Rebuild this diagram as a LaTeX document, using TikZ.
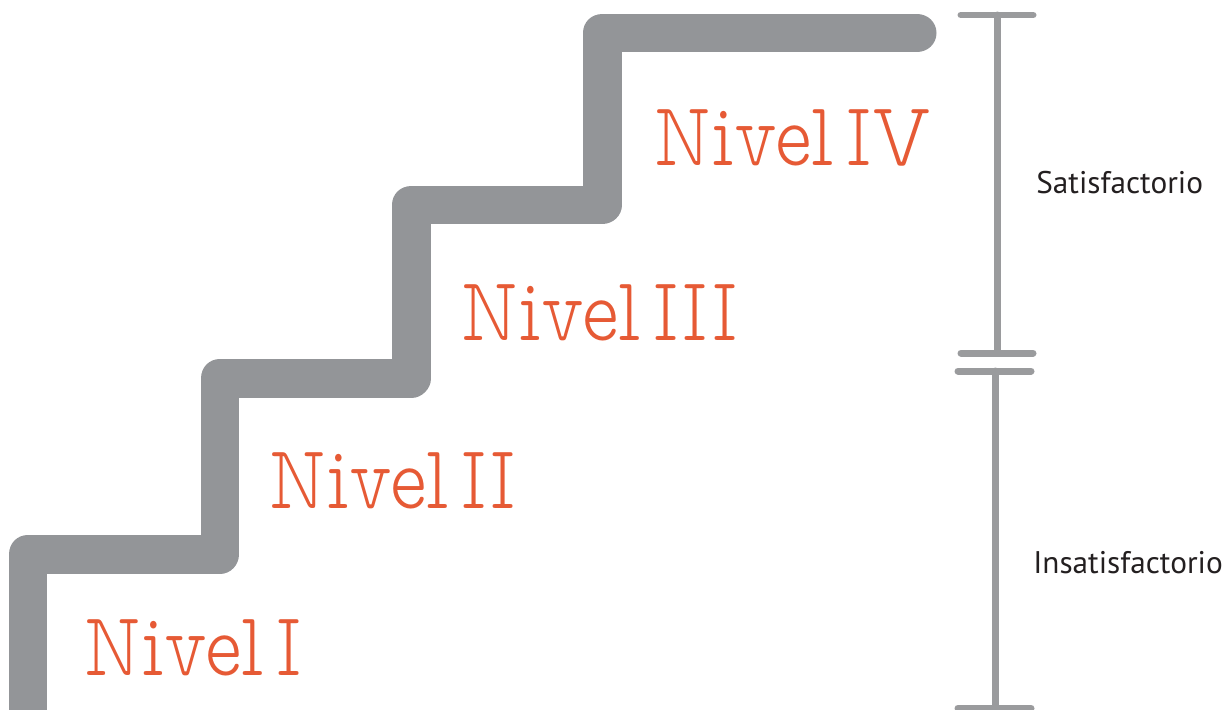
\documentclass[tikz,border=0pt]{standalone}
\usepackage{fontspec}
\usepackage{tikz}
\usetikzlibrary{positioning}
\newfontfamily\slabfont[FakeStretch=0.85, WordSpace=0.4]{Latin Modern Mono Prop Light}
\setsansfont{PT Sans}
\definecolor{stair_gray}{HTML}{939598}
\definecolor{bar_gray}{HTML}{9A9B9D}
\definecolor{level_orange}{HTML}{E65A35}
\definecolor{label_black}{HTML}{231F20}

\begin{document}
\begin{tikzpicture}[x=0.02cm, y=-0.02cm,
    % stili per la scala e le etichette
    stair_line/.style = {
        draw=stair_gray,
        line width=0.78cm,
        line join=round,
        line cap=round
    },
    bar_line/.style = {
        draw=bar_gray,
        line width=0.14cm,
        line cap=round
    },
    level_label/.style = {
        anchor=base west,
        inner sep=0,
        text=level_orange,
        font=\slabfont\fontsize{52}{52}\selectfont
    },
    range_label/.style = {
        anchor=base west,
        inner sep=0,
        text=label_black,
        font=\sffamily\fontsize{17.8}{17.8}\selectfont
    }
]
\useasboundingbox (0,0) rectangle (1231,710);

% 1. La scala
\draw[stair_line] (28,730) -- (28,554) -- (220,554) -- (220,378)
    -- (411,378) -- (411,205) -- (602,205) -- (602,33) -- (917,33);

% 2. I livelli
\node[level_label] (nivel1) at (83,675) {Nivel I};
\node[level_label] (nivel2) at (268,508) {Nivel II};
\node[level_label] (nivel3) at (460,340) {Nivel III};
\node[level_label] (nivel4) at (653,165) {Nivel IV};

% 3. Le barre a destra
\coordinate (sat_top) at (997,15);
\coordinate (sat_bot) at (997,353);
\coordinate (ins_top) at (995,371);
\coordinate (ins_bot) at (995,708);
\draw[bar_line] (sat_top) -- (sat_bot);
\draw[bar_line] (961,15) -- (1033,15);
\draw[bar_line] (961,353) -- (1033,353);
\draw[bar_line] (ins_top) -- (ins_bot);
\draw[bar_line] (958,371) -- (1031,371);
\draw[bar_line] (958,708) -- (1031,708);

% 4. Etichette
\node[range_label] (satisf) at (1036,193) {Satisfactorio};
\node[range_label] (insatisf) at (1033,573) {Insatisfactorio};

\end{tikzpicture}
\end{document}
